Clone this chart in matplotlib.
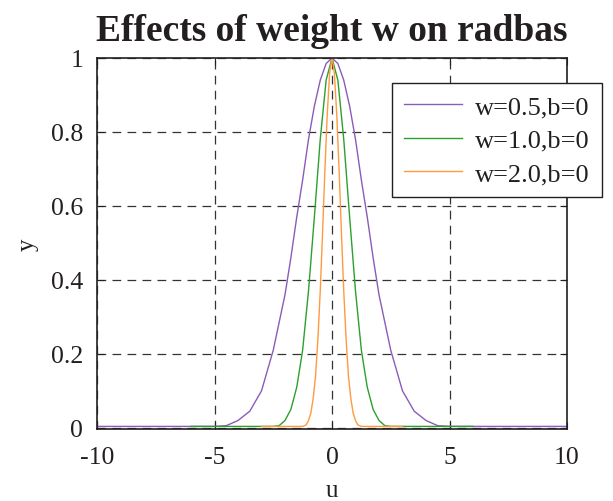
import matplotlib
matplotlib.use("Agg")
import matplotlib.pyplot as plt

# ---- data ----
u_w05 = [-10, -5, -4.5, -4, -3.5, -3, -2.5, -2, -1.75, -1.5, -1.25, -1, -0.75, -0.5, -0.25, 0,
         0.25, 0.5, 0.75, 1, 1.25, 1.5, 1.75, 2, 2.5, 3, 3.5, 4, 4.5, 5, 10]
y_w05 = [0.004, 0.004, 0.006, 0.02, 0.045, 0.10, 0.21, 0.36, 0.46, 0.57, 0.67, 0.78, 0.87, 0.94, 0.985, 1.0,
         0.985, 0.94, 0.87, 0.78, 0.67, 0.57, 0.46, 0.36, 0.21, 0.10, 0.045, 0.02, 0.006, 0.004, 0.004]

u_w10 = [-6, -2.5, -2.25, -2, -1.75, -1.5, -1.25, -1, -0.75, -0.5, -0.25, 0,
         0.25, 0.5, 0.75, 1, 1.25, 1.5, 1.75, 2, 2.25, 2.5, 6]
y_w10 = [0.004, 0.004, 0.006, 0.02, 0.05, 0.11, 0.21, 0.37, 0.57, 0.78, 0.94, 1.0,
         0.94, 0.78, 0.57, 0.37, 0.21, 0.11, 0.05, 0.02, 0.006, 0.004, 0.004]

u_w20 = [-3, -1.25, -1.1, -1.0, -0.9, -0.8, -0.7, -0.6, -0.5, -0.4, -0.3, -0.2, -0.1, 0,
         0.1, 0.2, 0.3, 0.4, 0.5, 0.6, 0.7, 0.8, 0.9, 1.0, 1.1, 1.25, 3]
y_w20 = [0.004, 0.004, 0.008, 0.02, 0.04, 0.08, 0.14, 0.24, 0.37, 0.53, 0.70, 0.85, 0.96, 1.0,
         0.96, 0.85, 0.70, 0.53, 0.37, 0.24, 0.14, 0.08, 0.04, 0.02, 0.008, 0.004, 0.004]

series_labels = ["w=0.5,b=0", "w=1.0,b=0", "w=2.0,b=0"]
series_colors = ["#8a5cb8", "#2ca02c", "#ff9a40"]
x_ticks = [-10, -5, 0, 5, 10]
y_ticks = [0, 0.2, 0.4, 0.6, 0.8, 1]
y_ticklabels = ["0", "0.2", "0.4", "0.6", "0.8", "1"]

plt.rcParams['font.family'] = ['Liberation Serif', 'DejaVu Serif']

fig = plt.figure(figsize=(6.13, 5.02), dpi=100)
fig.patch.set_facecolor("white")
ax = fig.add_axes([97/613, 1 - 430/502, (567 - 97)/613, (430 - 59)/502])

for u, y, lab, c in zip([u_w05, u_w10, u_w20], [y_w05, y_w10, y_w20], series_labels, series_colors):
    ax.plot(u, y, color=c, lw=1.0, label=lab)

ax.set_xlim(-10, 10)
ax.set_ylim(-0.003, 1)
ax.set_xticks(x_ticks)
ax.set_xticklabels([str(t) for t in x_ticks])
ax.set_yticks(y_ticks)
ax.set_yticklabels(y_ticklabels)
ax.tick_params(direction='in', top=True, right=True, length=5, width=0.8,
               labelsize=18.5, colors='#231f20')
ax.tick_params(axis='x', pad=12)
ax.tick_params(axis='y', pad=10)
ax.grid(True, color='#333333', linestyle=(0, (7, 5)), linewidth=0.9)
for s in ax.spines.values():
    s.set_color('#231f20')
    s.set_linewidth(1.2)

ax.set_title("Effects of weight w on radbas", fontsize=27, fontweight='bold',
             color='#231f20', pad=13)
ax.set_xlabel("u", fontsize=18, color='#231f20', labelpad=8)
ax.set_ylabel("y", fontsize=18, color='#231f20', labelpad=9)

leg = ax.legend(loc='upper left', bbox_to_anchor=(392/613, 1 - 84/502),
                bbox_transform=fig.transFigure, borderaxespad=0, fontsize=19,
                frameon=True, fancybox=False, handlelength=2.2, handletextpad=0.5,
                labelspacing=0.38, borderpad=0.45)
leg.get_frame().set_edgecolor('#231f20')
leg.get_frame().set_linewidth(1.0)
leg.get_frame().set_alpha(1)
for t in leg.get_texts():
    t.set_color('#231f20')

fig.savefig("out.png", dpi=100)
